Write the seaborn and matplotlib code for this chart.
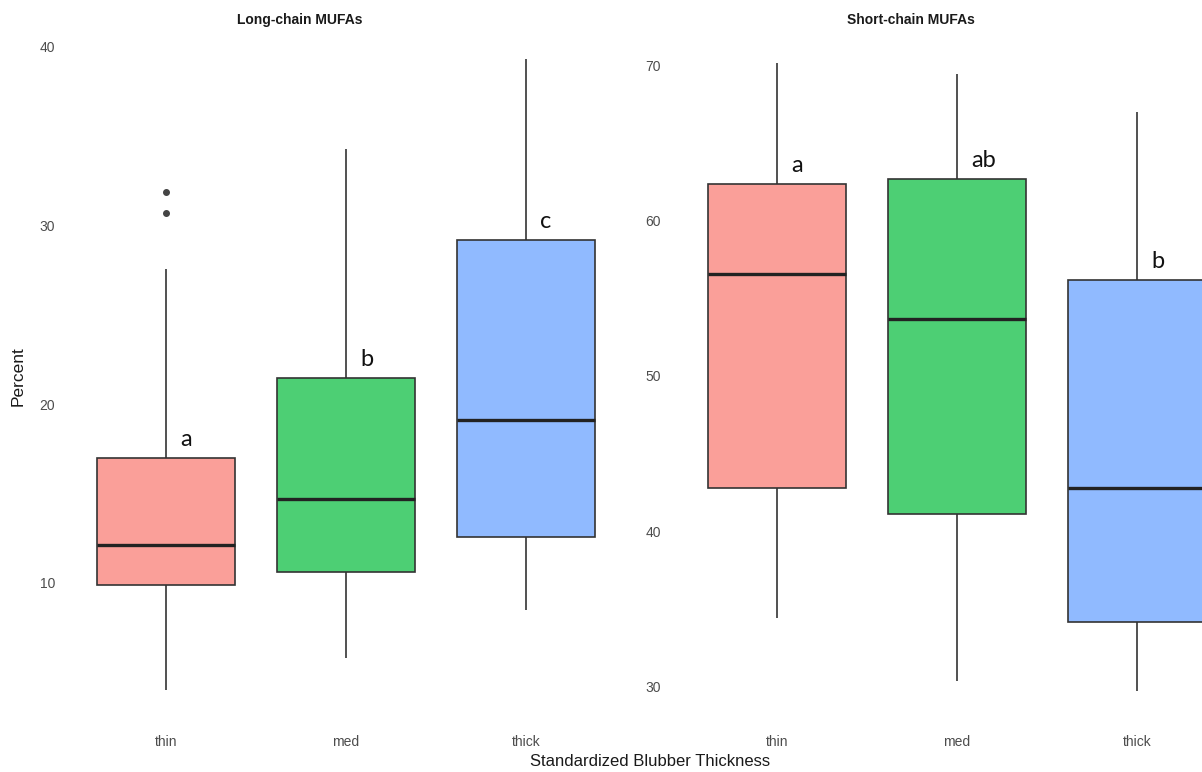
import matplotlib
matplotlib.use("Agg")
import matplotlib.pyplot as plt
import seaborn as sns
import pandas as pd

# groups and colours (ggplot hue at alpha 0.7 on white)
groups = ["thin", "med", "thick"]
colors = ["#FA9F99", "#4DCF74", "#90BAFF"]

# Long-chain MUFAs five-number summaries
long_lo = [4.0, 5.8, 8.5]
long_q1 = [9.9, 10.6, 12.6]
long_med = [12.1, 14.7, 19.1]
long_q3 = [17.0, 21.5, 29.2]
long_hi = [27.6, 34.3, 39.3]
long_out = [[30.7, 31.9], [], []]
long_letters = ["a", "b", "c"]

# Short-chain MUFAs
short_lo = [34.4, 30.3, 29.7]
short_q1 = [42.8, 41.1, 34.1]
short_med = [56.6, 53.7, 42.8]
short_q3 = [62.4, 62.7, 56.2]
short_hi = [70.2, 69.5, 67.0]
short_out = [[], [], []]
short_letters = ["a", "ab", "b"]


# Turn a summary into values whose quartiles give back the same box
def expand(lo, q1, med, q3, hi, out):
    return [lo] + [q1] * 5 + [med] * 5 + [q3] * 5 + [hi] + list(out)


def build_frame(lo, q1, med, q3, hi, out):
    rows = []
    for i, g in enumerate(groups):
        for v in expand(lo[i], q1[i], med[i], q3[i], hi[i], out[i]):
            rows.append((g, v))
    return pd.DataFrame(rows, columns=["thickness", "percent"])


sns.set_theme(style="white")
plt.rcParams['font.family'] = ['Liberation Sans', 'DejaVu Sans']

fig = plt.figure(figsize=(12.02, 7.72), dpi=100)
ax1 = fig.add_axes([58 / 1202, 1 - 722 / 772, 576 / 1202, 692 / 772])
ax2 = fig.add_axes([669 / 1202, 1 - 722 / 772, 576 / 1202, 692 / 772])

panels = [
    (ax1, build_frame(long_lo, long_q1, long_med, long_q3, long_hi, long_out),
     long_q3, long_letters, "Long-chain MUFAs", (2.22, 40.95), [10, 20, 30, 40], 2),
    (ax2, build_frame(short_lo, short_q1, short_med, short_q3, short_hi, short_out),
     short_q3, short_letters, "Short-chain MUFAs", (27.68, 72.32), [30, 40, 50, 60, 70], 6),
]

for ax, df, q3, letters, title, ylim, yticks, ypad in panels:
    sns.boxplot(data=df, x="thickness", y="percent", hue="thickness",
                order=groups, hue_order=groups, palette=colors, legend=False,
                width=0.77, linecolor="#333333", linewidth=1.2, saturation=1,
                showcaps=False, ax=ax,
                medianprops=dict(color="#222222", linewidth=2.4),
                flierprops=dict(marker="o", markerfacecolor="#444444",
                                markeredgecolor="#444444", markersize=4))
    ax.set_xlim(-0.6, 2.6)
    ax.set_ylim(*ylim)
    ax.set_yticks(yticks)
    ax.set_xlabel("")
    ax.set_ylabel("")
    ax.tick_params(axis="x", length=0, pad=9, labelsize=10, labelcolor="#4D4D4D")
    ax.tick_params(axis="y", length=0, pad=ypad, labelsize=10, labelcolor="#4D4D4D")
    ax.set_title(title, x=0.42, pad=4, fontsize=10, fontweight="bold", color="#1A1A1A")
    sns.despine(ax=ax, left=True, bottom=True)
    ax.grid(False)

    # significance letters just above each box
    for i, lab in enumerate(letters):
        ax.annotate(lab, xy=(i, q3[i]), xytext=(14, 8), textcoords="offset pixels",
                    ha="left", va="bottom", fontsize=17, color="#111111",
                    family=["Lato", "DejaVu Sans"])

ax1.set_ylabel("Percent", fontsize=12.5, color="#1A1A1A")
ax1.yaxis.set_label_coords(-0.056, 0.5)
fig.text(650 / 1202, 1 - 762 / 772, "Standardized Blubber Thickness",
         ha="center", va="center", fontsize=12, color="#1A1A1A")

plt.savefig("out.png", dpi=100)
